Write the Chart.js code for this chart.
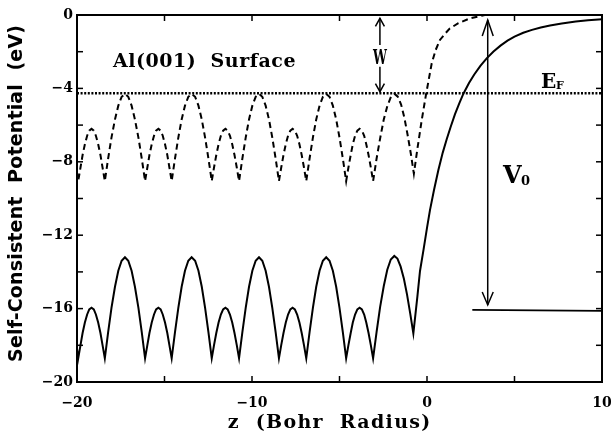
<!DOCTYPE html>
<html><head><meta charset="utf-8">
<script src="https://cdn.jsdelivr.net/npm/chart.js@4/dist/chart.umd.min.js"></script>
<style>html,body{margin:0;padding:0;background:#fff;}canvas{display:block;}</style>
</head><body>
<canvas id="c" width="611" height="447"></canvas>
<script>
// z positions (bohr) of the points read along the bulk oscillations (shared by both curves)
const bulkZ = [-20, -19.93,
 -19.80, -19.68, -19.55, -19.42, -19.30, -19.17, -19.04, -18.92, -18.79, -18.66, -18.54, -18.41,
 -18.22, -18.03, -17.83, -17.64, -17.45, -17.26, -17.07, -16.88, -16.69, -16.49, -16.30, -16.11,
 -15.98, -15.86, -15.73, -15.60, -15.48, -15.35, -15.22, -15.10, -14.97, -14.84, -14.72, -14.59,
 -14.40, -14.21, -14.02, -13.83, -13.64, -13.45, -13.25, -13.06, -12.87, -12.68, -12.49, -12.30,
 -12.17, -12.04, -11.91, -11.78, -11.65, -11.52, -11.39, -11.26, -11.13, -11.00, -10.87, -10.74,
 -10.55, -10.36, -10.17, -9.98, -9.79, -9.60, -9.41, -9.22, -9.03, -8.84, -8.65, -8.46,
 -8.33, -8.20, -8.07, -7.94, -7.81, -7.68, -7.55, -7.42, -7.29, -7.16, -7.03, -6.90,
 -6.71, -6.52, -6.33, -6.14, -5.95, -5.76, -5.57, -5.38, -5.19, -5.00, -4.81, -4.62,
 -4.49, -4.36, -4.24, -4.11, -3.98, -3.85, -3.72, -3.59, -3.47, -3.34, -3.21, -3.08];
// self-consistent potential (solid) at bulkZ, eV
const solidBulkV = [-18.20, -18.71,
 -17.99, -17.33, -16.76, -16.32, -16.04, -15.95, -16.04, -16.32, -16.76, -17.33, -17.99, -18.71,
 -17.28, -15.96, -14.81, -13.94, -13.39, -13.20, -13.39, -13.94, -14.81, -15.96, -17.28, -18.71,
 -17.99, -17.33, -16.76, -16.32, -16.04, -15.95, -16.04, -16.32, -16.76, -17.33, -17.99, -18.71,
 -17.28, -15.96, -14.81, -13.94, -13.39, -13.20, -13.39, -13.94, -14.81, -15.96, -17.28, -18.71,
 -17.99, -17.33, -16.76, -16.32, -16.04, -15.95, -16.04, -16.32, -16.76, -17.33, -17.99, -18.71,
 -17.28, -15.96, -14.81, -13.94, -13.39, -13.20, -13.39, -13.94, -14.81, -15.96, -17.28, -18.71,
 -17.99, -17.33, -16.76, -16.32, -16.04, -15.95, -16.04, -16.32, -16.76, -17.33, -17.99, -18.71,
 -17.28, -15.96, -14.81, -13.94, -13.39, -13.20, -13.39, -13.94, -14.81, -15.96, -17.28, -18.71,
 -17.99, -17.33, -16.76, -16.32, -16.04, -15.95, -16.04, -16.32, -16.76, -17.33, -17.99, -18.71];
// dashed curve at bulkZ, eV
const dashBulkV = [-8.60, -9.05,
 -8.31, -7.63, -7.04, -6.58, -6.30, -6.20, -6.30, -6.58, -7.04, -7.63, -8.31, -9.05,
 -7.82, -6.68, -5.69, -4.94, -4.46, -4.30, -4.46, -4.94, -5.69, -6.68, -7.82, -9.05,
 -8.31, -7.63, -7.04, -6.58, -6.30, -6.20, -6.30, -6.58, -7.04, -7.63, -8.31, -9.05,
 -7.82, -6.68, -5.69, -4.94, -4.46, -4.30, -4.46, -4.94, -5.69, -6.68, -7.82, -9.05,
 -8.31, -7.63, -7.04, -6.58, -6.30, -6.20, -6.30, -6.58, -7.04, -7.63, -8.31, -9.05,
 -7.82, -6.68, -5.69, -4.94, -4.46, -4.30, -4.46, -4.94, -5.69, -6.68, -7.82, -9.05,
 -8.31, -7.63, -7.04, -6.58, -6.30, -6.20, -6.30, -6.58, -7.04, -7.63, -8.31, -9.05,
 -7.82, -6.68, -5.69, -4.94, -4.46, -4.30, -4.46, -4.94, -5.69, -6.68, -7.82, -9.05,
 -8.31, -7.63, -7.04, -6.58, -6.30, -6.20, -6.30, -6.58, -7.04, -7.63, -8.31, -9.05];
// surface region, solid curve
const solidSurfZ = [-2.88, -2.68, -2.47, -2.27, -2.07, -1.87, -1.69, -1.51, -1.32, -1.14, -0.96, -0.78,
 -0.55, -0.40, -0.20, 0.00, 0.17, 0.40, 0.65, 0.90, 1.13, 1.35, 1.60, 1.85, 2.08, 2.40, 2.70, 3.05,
 3.41, 3.80, 4.20, 4.60, 5.00, 5.50, 6.00, 6.50, 7.03, 7.70, 8.50, 9.20, 10.00];
const solidSurfV = [-17.27, -15.92, -14.77, -13.88, -13.32, -13.13, -13.27, -13.70, -14.37, -15.24, -16.26, -17.35,
 -15.35, -13.95, -12.80, -11.60, -10.63, -9.54, -8.45, -7.50, -6.76, -6.10, -5.40, -4.80, -4.29, -3.71, -3.24, -2.77,
 -2.36, -1.99, -1.67, -1.40, -1.18, -0.97, -0.81, -0.68, -0.57, -0.46, -0.36, -0.29, -0.23];
// surface region, dashed curve
const dashSurfZ = [-2.88, -2.67, -2.47, -2.26, -2.06, -1.85, -1.67, -1.48, -1.30, -1.12, -0.93, -0.75,
 -0.55, -0.30, -0.05, 0.27, 0.50, 0.74, 1.05, 1.31, 1.79, 2.46, 3.12, 3.30];
const dashSurfV = [-7.82, -6.68, -5.69, -4.94, -4.46, -4.30, -4.45, -4.88, -5.57, -6.47, -7.52, -8.65,
 -7.30, -5.72, -4.30, -2.63, -1.90, -1.36, -1.00, -0.73, -0.45, -0.18, -0.04, 0.00];
// Fermi level and bulk reference level
const fermiZ = [-20, 10];
const fermiV = [-4.27, -4.27];
const bulkLevelZ = [2.59, 10];
const bulkLevelV = [-16.07, -16.12];
// arrows
const wArrowZ = -2.69, wArrowV = [-0.18, -1.63, -2.82, -4.18];
const v0ArrowZ = 3.47, v0ArrowV = [-0.27, -15.80];
// ticks
const xTickValues = [-20, -15, -10, -5, 0, 5, 10];
const yTickValues = [0, -2, -4, -6, -8, -10, -12, -14, -16, -18, -20];

function pts(xs, ys) { return xs.map((x, i) => ({x: x, y: ys[i]})); }
const solidPts = pts(bulkZ.concat(solidSurfZ), solidBulkV.concat(solidSurfV));
const dashPts = pts(bulkZ.concat(dashSurfZ), dashBulkV.concat(dashSurfV));

function fitText(ctx, text, font, width) {
  ctx.font = font;
  ctx.letterSpacing = '0px';
  const w = ctx.measureText(text).width;
  const ls = (width - w) / (text.length);
  ctx.letterSpacing = ls + 'px';
}

const decor = {
  id: 'decor',
  afterDraw(chart) {
    const ctx = chart.ctx, xs = chart.scales.x, ys = chart.scales.y, a = chart.chartArea;
    const X = v => xs.getPixelForValue(v), Y = v => ys.getPixelForValue(v);
    ctx.save();
    ctx.strokeStyle = '#000'; ctx.fillStyle = '#000';
    function line(x1, y1, x2, y2) { ctx.beginPath(); ctx.moveTo(x1, y1); ctx.lineTo(x2, y2); ctx.stroke(); }
    ctx.lineWidth = 2;
    ctx.strokeRect(a.left, a.top, a.right - a.left, a.bottom - a.top);
    ctx.lineWidth = 1.5;
    xTickValues.forEach(v => { const p = X(v); line(p, a.bottom, p, a.bottom - 6); line(p, a.top, p, a.top + 6); });
    yTickValues.forEach(v => { const p = Y(v); line(a.left, p, a.left + 6, p); line(a.right, p, a.right - 6, p); });
    // arrows
    ctx.lineWidth = 1.5;
    const wx = X(wArrowZ);
    line(wx, Y(wArrowV[0]), wx, Y(wArrowV[1]));
    line(wx, Y(wArrowV[2]), wx, Y(wArrowV[3]));
    function head(x, y, dir, len, hw) {
      ctx.beginPath(); ctx.moveTo(x - hw, y + dir * len); ctx.lineTo(x, y); ctx.lineTo(x + hw, y + dir * len); ctx.stroke();
    }
    head(wx, Y(wArrowV[0]), 1, 8, 4.5);
    head(wx, Y(wArrowV[3]), -1, 8, 4.5);
    const vx = X(v0ArrowZ);
    line(vx, Y(v0ArrowV[0]), vx, Y(v0ArrowV[1]));
    head(vx, Y(v0ArrowV[0]), 1, 16, 5.5);
    head(vx, Y(v0ArrowV[1]), -1, 13, 5.5);
    // texts
    ctx.textBaseline = 'alphabetic';
    ctx.textAlign = 'left';
    fitText(ctx, 'Al(001)  Surface', 'bold 19px "DejaVu Serif"', 183);
    ctx.fillText('Al(001)  Surface', 113, 67);
    ctx.letterSpacing = '0px';
    // W
    ctx.save();
    ctx.font = 'bold 20px "DejaVu Serif"';
    ctx.translate(wx, 63.5);
    ctx.scale(0.62, 1);
    ctx.textAlign = 'center';
    ctx.fillText('W', 0, 0);
    ctx.restore();
    // V0
    ctx.font = 'bold 24px "DejaVu Serif"';
    ctx.fillText('V', 503, 183);
    ctx.font = 'bold 13px "DejaVu Serif"';
    ctx.fillText('0', 521, 185);
    // EF
    ctx.font = 'bold 20px "DejaVu Serif"';
    ctx.fillText('E', 541, 88);
    ctx.font = 'bold 11px "DejaVu Serif"';
    ctx.fillText('F', 556, 88.5);
    // axis titles
    ctx.textAlign = 'center';
    fitText(ctx, 'z  (Bohr  Radius)', 'bold 19px "DejaVu Serif"', 204);
    ctx.fillText('z  (Bohr  Radius)', 329 + parseFloat(ctx.letterSpacing) / 2, 428);
    ctx.save();
    ctx.translate(17.5, 193.5);
    ctx.rotate(-Math.PI / 2);
    ctx.textBaseline = 'middle';
    fitText(ctx, 'Self-Consistent  Potential  (eV)', 'bold 19px "DejaVu Sans"', 337);
    ctx.fillText('Self-Consistent  Potential  (eV)', parseFloat(ctx.letterSpacing) / 2, 0);
    ctx.restore();
    ctx.restore();
  }
};

const fmt = v => (v < 0 ? '\u2212' + Math.abs(v) : String(v));
const tickFont = {family: 'DejaVu Serif', weight: 'bold', size: 14};

new Chart(document.getElementById('c'), {
  type: 'line',
  data: {
    datasets: [
      {data: solidPts, borderColor: '#000', borderWidth: 2, pointRadius: 0, tension: 0, fill: false},
      {data: dashPts, borderColor: '#000', borderWidth: 2, borderDash: [6, 4], pointRadius: 0, tension: 0, fill: false},
      {data: pts(fermiZ, fermiV), borderColor: '#000', borderWidth: 2.5, borderDash: [2, 1.6], pointRadius: 0, fill: false},
      {data: pts(bulkLevelZ, bulkLevelV), borderColor: '#000', borderWidth: 1.8, pointRadius: 0, fill: false}
    ]
  },
  options: {
    responsive: false,
    animation: false,
    events: [],
    layout: {padding: {top: 15, right: 9, left: 0, bottom: 0}},
    plugins: {legend: {display: false}, tooltip: {enabled: false}},
    scales: {
      x: {
        type: 'linear', min: -20, max: 10,
        grid: {display: false, drawTicks: false},
        border: {display: false},
        ticks: {stepSize: 10, padding: 13, color: '#000', font: tickFont, callback: fmt, maxRotation: 0},
        afterFit(s) { s.height = 65; s.paddingLeft = 0; s.paddingRight = 0; }
      },
      y: {
        type: 'linear', min: -20, max: 0,
        grid: {display: false, drawTicks: false},
        border: {display: false},
        ticks: {stepSize: 4, padding: 4, color: '#000', font: tickFont, callback: fmt},
        afterFit(s) { s.width = 77; s.paddingTop = 0; s.paddingBottom = 0; }
      }
    }
  },
  plugins: [decor]
});
</script>
</body></html>
